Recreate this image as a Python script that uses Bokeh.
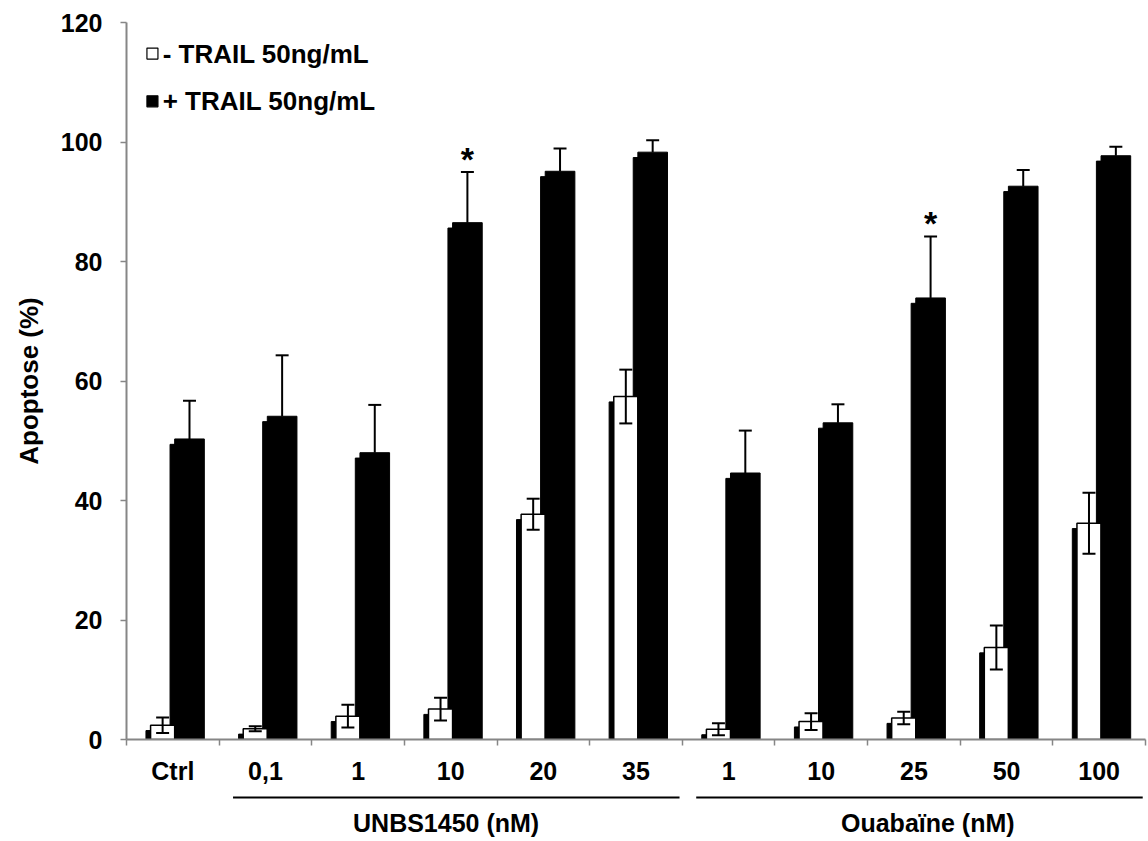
import numpy as np
from bokeh.plotting import figure
from bokeh.models import Range1d, FixedTicker
from bokeh.layouts import column
from bokeh.core.properties import value
from bokeh.embed import file_html
from bokeh.resources import INLINE

# ---------------- data ----------------
categories = ["Ctrl", "0,1", "1", "10", "20", "35", "1", "10", "25", "50", "100"]
minus_trail = [2.4, 1.8, 3.9, 5.1, 37.7, 57.4, 1.7, 3.0, 3.6, 15.4, 36.2]
minus_err = [1.3, 0.4, 1.9, 1.9, 2.6, 4.5, 1.0, 1.4, 1.05, 3.7, 5.1]
plus_trail = [50.3, 54.1, 48.0, 86.5, 95.1, 98.3, 44.6, 53.0, 73.9, 92.6, 97.7]
plus_err = [6.4, 10.2, 8.0, 8.5, 3.8, 2.0, 7.1, 3.1, 10.3, 2.7, 1.5]
significant = [False, False, False, True, False, False, False, False, True, False, False]
legend_labels = ["- TRAIL 50ng/mL", "+ TRAIL 50ng/mL"]
groups = ["UNBS1450 (nM)", "Ouabaïne (nM)"]
group_first = [2, 7]
group_last = [6, 11]
y_ticks = [0, 20, 40, 60, 80, 100, 120]

# ---------------- style / layout ----------------
FONT = value("Liberation Sans")
AXIS_GRAY = "#868686"
W_OFF, W_WIDTH = -0.11, 0.26
B_OFF, B_WIDTH = 0.18, 0.32
SH_DX, SH_DY = -0.05, -0.9
CAP = 0.14
STAR_DY = 2.2
LEG_X, LEG_TX = 0.78, 0.89
LEG_Y = [114.8, 106.8]
GROUP_LINE_PAD = (-0.35, 0.47)
GROUP_TEXT_DX = [-0.05, 0.15]

n = len(categories)
pos = np.arange(1, n + 1, dtype=float)
mt = np.array(minus_trail)
me = np.array(minus_err)
pt = np.array(plus_trail)
pe = np.array(plus_err)
xw = pos + W_OFF
xb = pos + B_OFF

p = figure(width=1148, height=790, output_backend="svg", toolbar_location=None,
           x_range=Range1d(0.5, n + 0.5), y_range=Range1d(0, 120),
           min_border_left=126, min_border_right=3, min_border_top=22, min_border_bottom=51)
p.outline_line_color = None
p.xgrid.grid_line_color = None
p.ygrid.grid_line_color = None
p.background_fill_color = "white"
p.border_fill_color = "white"

# shadows
p.vbar(x=xw + SH_DX, top=np.maximum(mt + SH_DY, 0), width=W_WIDTH, bottom=0,
       fill_color="black", line_color="black", line_width=1)
p.vbar(x=xb + SH_DX, top=pt + SH_DY, width=B_WIDTH, bottom=0,
       fill_color="black", line_color="black", line_width=1)
# bars
p.vbar(x=xw, top=mt, width=W_WIDTH, bottom=0,
       fill_color="white", line_color="black", line_width=1.5)
p.vbar(x=xb, top=pt, width=B_WIDTH, bottom=0,
       fill_color="black", line_color="black", line_width=1)

# error bars (white: both directions)
p.segment(x0=xw, x1=xw, y0=mt - me, y1=mt + me, line_color="black", line_width=2)
p.segment(x0=xw - CAP / 2, x1=xw + CAP / 2, y0=mt - me, y1=mt - me, line_color="black", line_width=2)
p.segment(x0=xw - CAP / 2, x1=xw + CAP / 2, y0=mt + me, y1=mt + me, line_color="black", line_width=2)
# error bars (black: upward)
p.segment(x0=xb, x1=xb, y0=pt, y1=pt + pe, line_color="black", line_width=2)
p.segment(x0=xb - CAP / 2, x1=xb + CAP / 2, y0=pt + pe, y1=pt + pe, line_color="black", line_width=2)

# significance stars
sig = np.array(significant)
p.text(x=xb[sig], y=(pt + pe)[sig] + STAR_DY, text=["*"] * int(sig.sum()),
       text_font=FONT, text_font_style="bold", text_font_size="34px",
       text_align="center", text_baseline="alphabetic", text_color="black")

# legend
p.scatter(x=[LEG_X, LEG_X], y=LEG_Y, marker="square", size=11,
          fill_color=["white", "black"], line_color="black", line_width=1.2)
p.text(x=[LEG_TX, LEG_TX], y=LEG_Y, text=legend_labels, text_font=FONT,
       text_font_style="bold", text_font_size="26px", text_baseline="middle",
       text_align="left", text_color="black")

# axes
xa = p.xaxis[0]
xa.ticker = FixedTicker(ticks=list(pos), minor_ticks=list(np.arange(0.5, n + 1, 1.0)))
xa.major_label_overrides = {int(i): c for i, c in zip(pos, categories)}
xa.major_tick_line_color = None
xa.major_tick_out = 0
xa.minor_tick_out = 6
xa.minor_tick_in = 0
xa.minor_tick_line_color = AXIS_GRAY
xa.minor_tick_line_width = 1.5
xa.axis_line_color = AXIS_GRAY
xa.axis_line_width = 2
xa.major_label_standoff = 11
xa.major_label_text_font = "Liberation Sans"
xa.major_label_text_font_style = "bold"
xa.major_label_text_font_size = "25px"
xa.major_label_text_color = "black"

ya = p.yaxis[0]
ya.ticker = FixedTicker(ticks=y_ticks)
ya.minor_tick_line_color = None
ya.major_tick_out = 6
ya.major_tick_in = 0
ya.major_tick_line_color = AXIS_GRAY
ya.major_tick_line_width = 1.5
ya.axis_line_color = AXIS_GRAY
ya.axis_line_width = 2
ya.major_label_standoff = 18
ya.major_label_text_font = "Liberation Sans"
ya.major_label_text_font_style = "bold"
ya.major_label_text_font_size = "25px"
ya.major_label_text_color = "black"
ya.axis_label = "Apoptose (%)"
ya.axis_label_text_font = "Liberation Sans"
ya.axis_label_text_font_style = "bold"
ya.axis_label_text_font_size = "26px"
ya.axis_label_text_color = "black"
ya.axis_label_standoff = 14

# group annotation strip below
p2 = figure(width=1148, height=50, output_backend="svg", toolbar_location=None,
            x_range=p.x_range, y_range=Range1d(50, 0), x_axis_type=None, y_axis_type=None,
            min_border_left=126, min_border_right=3, min_border_top=0, min_border_bottom=0)
p2.outline_line_color = None
p2.xgrid.grid_line_color = None
p2.ygrid.grid_line_color = None
gf = np.array(group_first, dtype=float)
gl = np.array(group_last, dtype=float)
p2.segment(x0=gf + GROUP_LINE_PAD[0], x1=gl + GROUP_LINE_PAD[1], y0=[7, 7], y1=[7, 7],
           line_color="black", line_width=2)
p2.text(x=(gf + gl) / 2 + np.array(GROUP_TEXT_DX), y=[32, 32], text=groups, text_font=FONT,
        text_font_style="bold", text_font_size="25px", text_align="center",
        text_baseline="middle", text_color="black")

layout = column(p, p2, spacing=0)
open("out.html", "w").write(file_html(layout, INLINE))
